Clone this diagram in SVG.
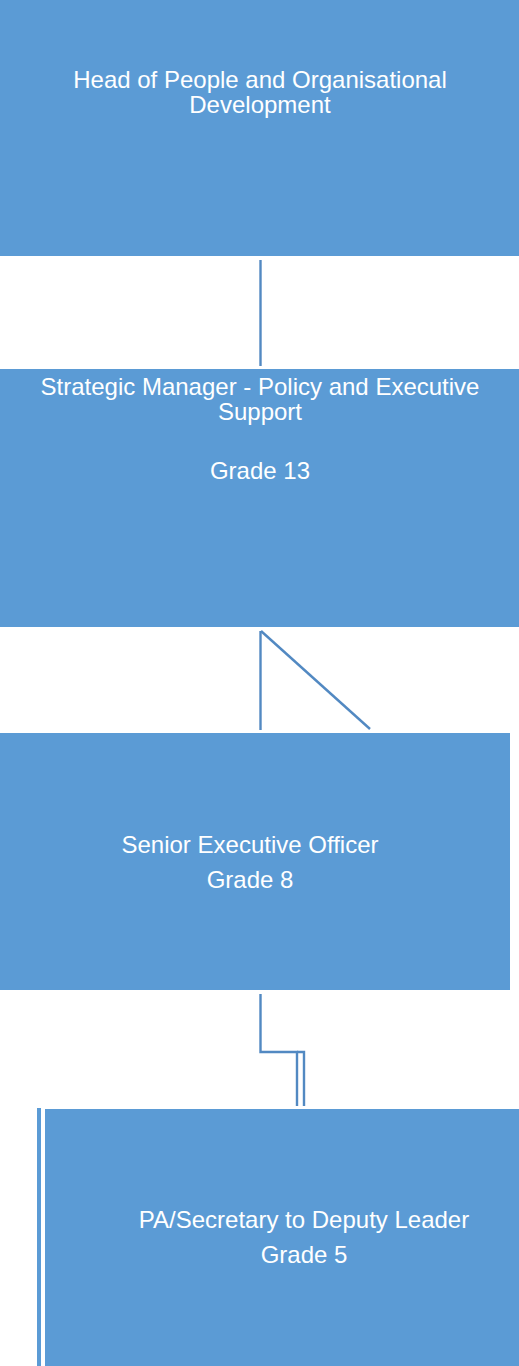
<svg xmlns="http://www.w3.org/2000/svg" width="519" height="1366" viewBox="0 0 519 1366">
<style>
.box{fill:#5B9BD5;stroke:none}
.t{font-family:"Liberation Sans",Arial,sans-serif;font-size:24px;fill:#FFFFFF;text-anchor:middle}
.c{stroke:#5289C2;stroke-width:2.4;fill:none}
</style>
<rect width="519" height="1366" fill="#FFFFFF"/>
<g id="connectors">
<line class="c" x1="260.5" y1="260" x2="260.5" y2="366"/>
<line class="c" x1="260.5" y1="631" x2="260.5" y2="730"/>
<line class="c" x1="261" y1="631" x2="370" y2="729"/>
<polyline class="c" points="260.5,994 260.5,1052 297,1052 297,1106"/>
<polyline class="c" points="297,1052 304,1052 304,1106"/>
</g>
<g id="node1">
<rect class="box" x="0" y="0" width="519" height="256"/>
<text class="t" x="260" y="88">Head of People and Organisational</text>
<text class="t" x="260" y="113">Development</text>
</g>
<g id="node2">
<rect class="box" x="0" y="369" width="519" height="258"/>
<text class="t" x="260" y="395">Strategic Manager - Policy and Executive</text>
<text class="t" x="260" y="420">Support</text>
<text class="t" x="260" y="479">Grade 13</text>
</g>
<g id="node3">
<rect class="box" x="0" y="733" width="510" height="257"/>
<text class="t" x="250" y="853">Senior Executive Officer</text>
<text class="t" x="250" y="888">Grade 8</text>
</g>
<g id="node4">
<rect class="box" x="37" y="1108" width="4" height="258"/>
<rect class="box" x="45" y="1109" width="474" height="257"/>
<text class="t" x="304" y="1228">PA/Secretary to Deputy Leader</text>
<text class="t" x="304" y="1263">Grade 5</text>
</g>
</svg>
